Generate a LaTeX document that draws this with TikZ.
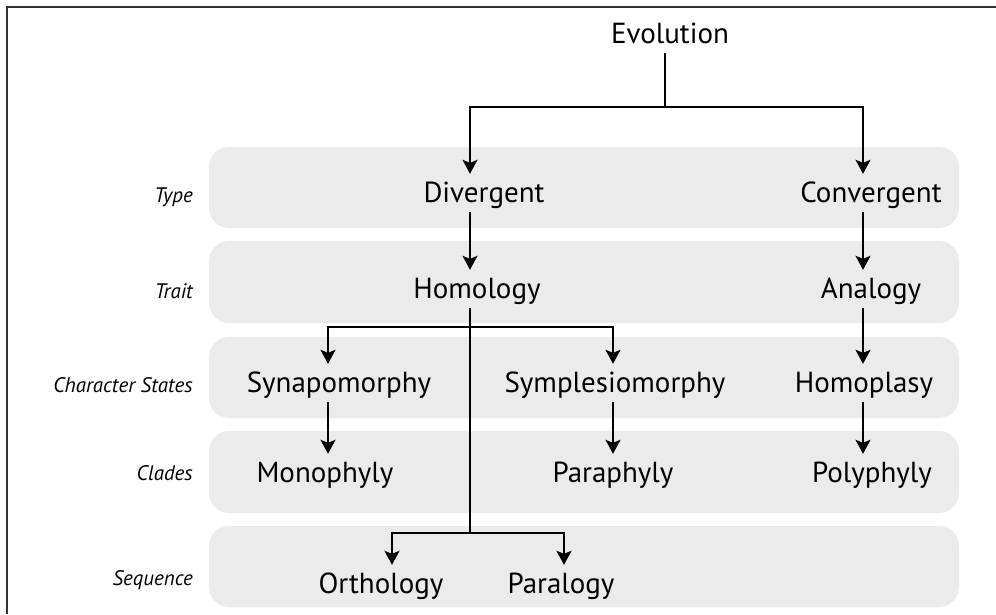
\documentclass[tikz,border=0pt]{standalone}
\usepackage{fontspec}
\setmainfont{PT Sans}
\usepackage{xcolor}
\usepackage{tikz}
\usetikzlibrary{arrows.meta,positioning,calc}

\definecolor{bandgray}{HTML}{EBEBEB}
\definecolor{framegray}{HTML}{333333}

\tikzset{
  band/.style={fill=bandgray,rounded corners=20pt},
  term/.style={font=\fontsize{29}{32}\selectfont,anchor=base,text height=22pt,text depth=4pt,inner ysep=6pt,inner xsep=2pt},
  rowlabel/.style={font=\fontsize{21}{24}\selectfont\itshape,anchor=base east,inner sep=0pt},
  link/.style={line width=1.5pt,black},
  arr/.style={link,-{Stealth[length=14pt,width=15pt,inset=3pt]}},
}

\begin{document}
\begin{tikzpicture}[x=1pt,y=-1pt]
	\useasboundingbox (0,0) rectangle (996,614);
	% frame
	\draw[framegray,line width=2pt] (7,614) -- (7,7) -- (996,7);
	% bands
	\fill[band] (209,147) rectangle (959,228);
	\fill[band] (209,241) rectangle (959,323);
	\fill[band] (209,337) rectangle (959,418);
	\fill[band] (209,431) rectangle (959,513);
	\fill[band] (209,526) rectangle (959,607);
	% row labels
	\node[rowlabel] (ltype) at (193,202) {Type};
	\node[rowlabel] (ltrait) at (193,298) {Trait};
	\node[rowlabel] (lstates) at (193,392) {Character States};
	\node[rowlabel] (lclades) at (193,480) {Clades};
	\node[rowlabel] (lseq) at (193,585) {Sequence};
	% terms
	\node[term] (evo) at (670,43) {Evolution};
	\node[term] (div) at (484,202) {Divergent};
	\node[term] (conv) at (871,202) {Convergent};
	\node[term] (hom) at (477,298) {Homology};
	\node[term] (ana) at (871,298) {Analogy};
	\node[term] (syn) at (339,392) {Synapomorphy};
	\node[term] (sym) at (615,392) {Symplesiomorphy};
	\node[term] (hpl) at (864,392) {Homoplasy};
	\node[term] (mono) at (325,482) {Monophyly};
	\node[term] (para) at (613,482) {Paraphyly};
	\node[term] (poly) at (872,482) {Polyphyly};
	\node[term] (orth) at (381,593) {Orthology};
	\node[term] (paral) at (561,593) {Paralogy};
	% columns and junctions
	\coordinate (cdiv) at (470,0);
	\coordinate (cconv) at (863,0);
	\coordinate (csyn) at (328,0);
	\coordinate (csym) at (613,0);
	\coordinate (corth) at (392,0);
	\coordinate (cparal) at (564,0);
	\coordinate (jtop) at (665,107);
	\coordinate (jstate) at (470,327);
	\coordinate (jseq) at (470,533);
	% connectors
	\draw[link] (evo.south -| jtop) -- (jtop);
	\draw[arr] (jtop) -| (cdiv |- div.north);
	\draw[arr] (jtop) -| (cconv |- conv.north);
	\draw[arr] (cdiv |- div.south) -- (cdiv |- hom.north);
	\draw[arr] (cconv |- conv.south) -- (cconv |- ana.north);
	\draw[link] (cdiv |- hom.south) -- (jseq);
	\draw[arr] (jstate) -| (csyn |- syn.north);
	\draw[arr] (jstate) -| (csym |- sym.north);
	\draw[arr] (cconv |- ana.south) -- (cconv |- hpl.north);
	\draw[arr] (csyn |- syn.south) -- (csyn |- mono.north);
	\draw[arr] (csym |- sym.south) -- (csym |- para.north);
	\draw[arr] (cconv |- hpl.south) -- (cconv |- poly.north);
	\draw[arr] (jseq) -| (corth |- orth.north);
	\draw[arr] (jseq) -| (cparal |- paral.north);
\end{tikzpicture}
\end{document}
